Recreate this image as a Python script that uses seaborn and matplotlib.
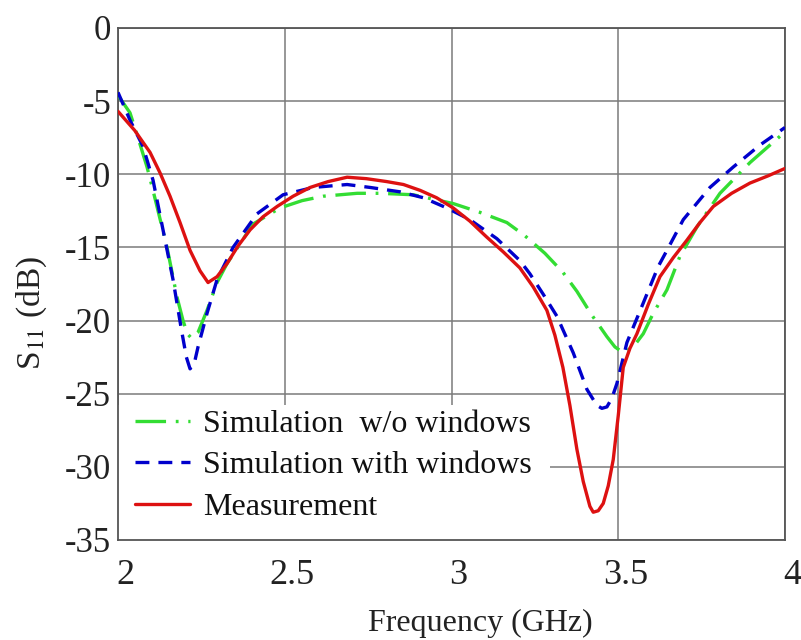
import numpy as np
import pandas as pd
import matplotlib
matplotlib.use("Agg")
import matplotlib.pyplot as plt
import matplotlib.transforms as mtransforms
from matplotlib.patches import Rectangle
import seaborn as sns

# ---- data ----
f_meas = [2.0, 2.05, 2.096, 2.126, 2.156, 2.186, 2.216, 2.246, 2.27, 2.297, 2.327, 2.36,
          2.396, 2.435, 2.477, 2.525, 2.576, 2.63, 2.687, 2.745, 2.806, 2.856, 2.906, 2.955,
          3.005, 3.055, 3.106, 3.155, 3.205, 3.245, 3.286, 3.31, 3.334, 3.355, 3.376, 3.395,
          3.415, 3.425, 3.44, 3.455, 3.47, 3.485, 3.5, 3.515, 3.535, 3.556, 3.59, 3.625,
          3.665, 3.706, 3.745, 3.785, 3.84, 3.895, 3.95, 4.0]
s_meas = [-5.7, -7.0, -8.5, -9.9, -11.5, -13.3, -15.2, -16.6, -17.4, -17.0, -16.1, -14.9,
          -13.8, -12.9, -12.2, -11.5, -10.9, -10.5, -10.2, -10.3, -10.5, -10.7, -11.1, -11.6,
          -12.3, -13.2, -14.3, -15.3, -16.4, -17.7, -19.3, -21.0, -23.2, -25.8, -28.8, -31.0,
          -32.7, -33.1, -33.0, -32.5, -31.3, -29.5, -26.5, -23.2, -21.9, -20.9, -18.9, -17.0,
          -15.7, -14.5, -13.3, -12.2, -11.3, -10.6, -10.1, -9.6]

f_win = [2.0, 2.036, 2.075, 2.105, 2.135, 2.165, 2.19, 2.205, 2.216, 2.228, 2.24, 2.267,
         2.297, 2.345, 2.417, 2.495, 2.585, 2.687, 2.756, 2.846, 2.915, 2.986, 3.055, 3.136,
         3.205, 3.235, 3.275, 3.316, 3.365, 3.406, 3.436, 3.451, 3.466, 3.481, 3.496, 3.526,
         3.575, 3.62, 3.646, 3.695, 3.775, 3.845, 3.925, 4.0]
s_win = [-4.4, -6.3, -8.1, -10.4, -13.8, -17.2, -20.6, -22.5, -23.3, -23.0, -21.8, -19.5,
         -17.2, -15.0, -12.7, -11.4, -10.9, -10.7, -10.9, -11.2, -11.6, -12.3, -13.1, -14.4,
         -15.9, -16.8, -18.2, -19.7, -22.2, -24.7, -25.8, -26.0, -25.9, -25.3, -24.3, -21.5,
         -18.8, -16.3, -15.2, -13.1, -10.9, -9.5, -8.0, -6.8]

f_nowin = [2.0, 2.036, 2.06, 2.087, 2.105, 2.147, 2.177, 2.195, 2.208, 2.22, 2.24, 2.267,
           2.297, 2.327, 2.405, 2.486, 2.552, 2.615, 2.717, 2.786, 2.885, 3.005, 3.085,
           3.166, 3.22, 3.28, 3.334, 3.376, 3.42, 3.466, 3.49, 3.515, 3.545, 3.575, 3.605,
           3.646, 3.685, 3.736, 3.805, 3.895, 4.0]
s_nowin = [-4.6, -5.8, -7.5, -9.5, -11.1, -15.0, -18.4, -20.0, -20.9, -21.2, -20.8, -19.3,
           -17.4, -16.1, -13.4, -12.3, -11.8, -11.5, -11.3, -11.3, -11.4, -12.0, -12.6,
           -13.3, -14.2, -15.4, -16.7, -18.0, -19.6, -21.1, -21.8, -22.2, -21.8, -20.9, -19.5,
           -17.9, -15.6, -13.6, -11.3, -9.2, -7.1]

labels = ["Simulation  w/o windows", "Simulation with windows", "Measurement"]
x_ticks = [2, 2.5, 3, 3.5, 4]
x_ticklabels = ["2", "2.5", "3", "3.5", "4"]
y_ticks = [0, -5, -10, -15, -20, -25, -30, -35]
y_ticklabels = ["0", "-5", "-10", "-15", "-20", "-25", "-30", "-35"]

df = pd.concat([
    pd.DataFrame({"f": f_nowin, "s": s_nowin, "series": labels[0]}),
    pd.DataFrame({"f": f_win, "s": s_win, "series": labels[1]}),
    pd.DataFrame({"f": f_meas, "s": s_meas, "series": labels[2]}),
], ignore_index=True)

# ---- style ----
sns.set_theme(style="whitegrid")
plt.rcParams["font.family"] = ["Liberation Serif", "DejaVu Serif"]
plt.rcParams["mathtext.fontset"] = "stix"
plt.rcParams["lines.scale_dashes"] = False

colors = {labels[0]: "#33dd33", labels[1]: "#0000cc", labels[2]: "#dd1111"}
dash_styles = {labels[0]: (22, 7, 2, 7), labels[1]: (10, 6.5), labels[2]: ""}

fig = plt.figure(figsize=(8.01, 6.4), dpi=100)
ax = fig.add_axes([118 / 801, 100 / 640, (785 - 118) / 801, (540 - 28) / 640])

sns.lineplot(data=df, x="f", y="s", hue="series", style="series",
             palette=colors, dashes=dash_styles, sort=False, estimator=None,
             linewidth=2.4, ax=ax, legend=True, zorder=3)

ax.set_xlim(2, 4)
ax.set_ylim(-35, 0)
ax.set_xticks(x_ticks)
ax.set_xticklabels(x_ticklabels, fontsize=26)
ax.set_yticks(y_ticks)
ax.set_yticklabels(y_ticklabels, fontsize=25)
ax.tick_params(axis="both", length=0, colors="#222222")
ax.tick_params(axis="y", pad=5)
ax.tick_params(axis="x", pad=14)

offset = mtransforms.ScaledTranslation(7 / 100, 0, fig.dpi_scale_trans)
for lab in ax.get_xticklabels():
    lab.set_transform(lab.get_transform() + offset)

ax.grid(True, color="#7a7a7a", linewidth=1.1)
for sp in ax.spines.values():
    sp.set_visible(True)
    sp.set_color("#555555")
    sp.set_linewidth(1.3)
    sp.set_zorder(2.6)

# white background block behind the legend (hides the grid there)
ax.add_patch(Rectangle((0, 0), (550 - 118) / 667, (540 - 405) / 512,
                       transform=ax.transAxes, facecolor="white", edgecolor="none",
                       zorder=2.1))

ax.set_xlabel("Frequency (GHz)", fontsize=23, color="#222222")
ax.set_ylabel("S$_{11}$ (dB)", fontsize=24, color="#222222")
ax.xaxis.set_label_coords((480 - 118) / 667, -(609 - 540) / 512)
ax.yaxis.set_label_coords(-(118 - 49) / 667, (540 - 313) / 512)

leg = ax.legend(loc="lower left", bbox_to_anchor=(14 / 667, 15 / 512), fontsize=23,
                frameon=False, handlelength=1.72, handletextpad=0.4, labelspacing=0.38,
                borderaxespad=0.0, borderpad=0.1)
leg.set_zorder(2.2)
for txt in leg.get_texts():
    txt.set_color("#111111")

fig.savefig("out.png", dpi=100)
